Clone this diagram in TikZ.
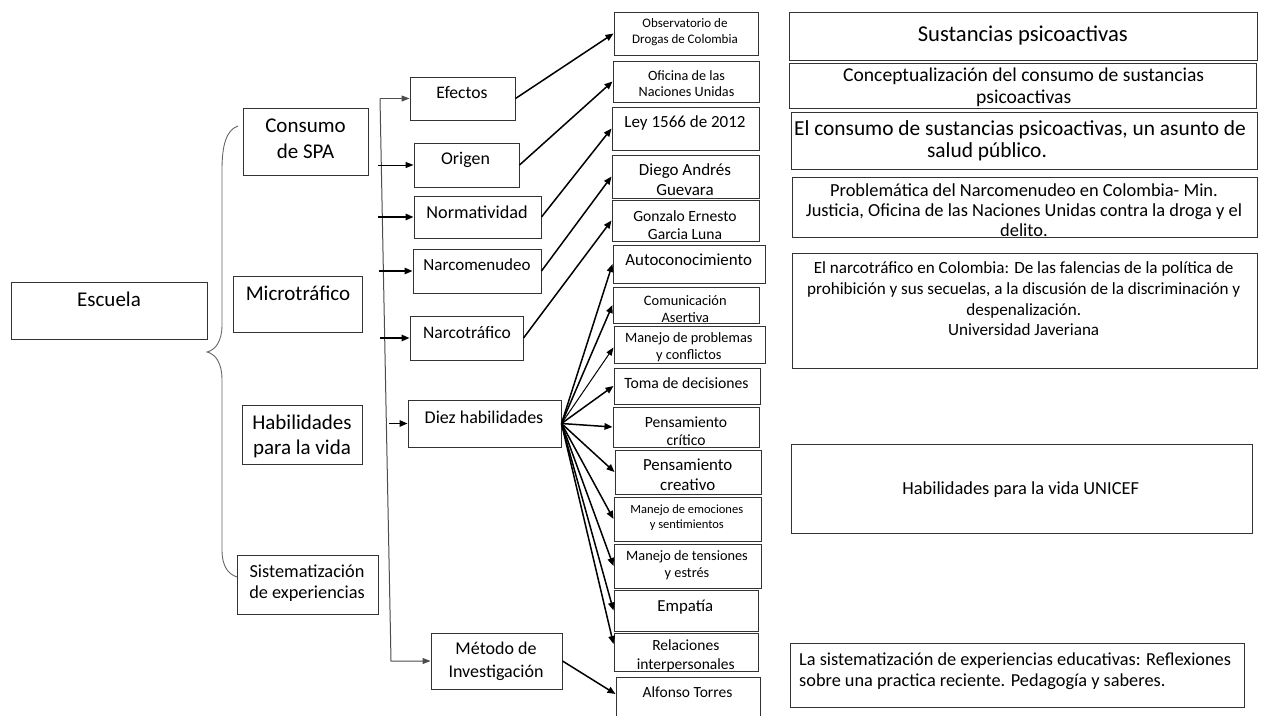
\documentclass[tikz,border=0pt]{standalone}
\usepackage{fontspec}
\setmainfont{Carlito}
\usetikzlibrary{arrows.meta,fit}
\newcommand\fs[2]{\fontsize{#1pt}{#2pt}\selectfont}
\newcommand\bx[5]{\node[box, fit={(#2,#3)(#4,#5)}] (#1) {};}
\begin{document}
\begin{tikzpicture}[x=1pt,y=-1pt,
  box/.style={draw=black!80, line width=1pt, inner sep=0pt},
  txt/.style={inner sep=0pt, align=center, text=black},
  arr/.style={line width=1.5pt, -{Triangle[length=8pt,width=6.5pt]}},
  thinarr/.style={line width=1pt, -{Triangle[length=8pt,width=6pt]}},
  brace/.style={draw=black!60, line width=0.9pt}]
\useasboundingbox (0,0) rectangle (1272,715);
\clip (0,0) rectangle (1272,715);
% ---- boxes
\bx{escuela}{11}{282}{207}{339}
\bx{consumo}{243}{108}{368}{175}
\bx{micro}{233}{276}{362}{332}
\bx{habil}{242}{405}{362}{464}
\bx{sist}{237}{555}{378}{614}
\bx{efectos}{410}{77}{515}{120}
\bx{origen}{414}{143}{519}{187}
\bx{norma}{414}{196}{541}{238}
\bx{narcom}{413}{249}{541}{293}
\bx{narcot}{410}{316}{523}{360}
\bx{diez}{408}{400}{561}{447}
\bx{metodo}{431}{633}{562}{689}
\bx{obs}{614}{12}{758}{55}
\bx{ofi}{613}{61}{759}{102}
\bx{ley}{612}{107}{759}{150}
\bx{diego}{612}{155}{759}{198}
\bx{gonz}{612}{200}{759}{241}
\bx{auto}{613}{245}{765}{283}
\bx{comu}{613}{287}{759}{323}
\bx{mprob}{614}{326}{765}{363}
\bx{toma}{614}{368}{760}{404}
\bx{pcrit}{613}{407}{759}{447}
\bx{pcrea}{615}{450}{761}{494}
\bx{memo}{614}{497}{761}{541}
\bx{mtens}{614}{544}{761}{588}
\bx{empa}{614}{590}{758}{631}
\bx{rela}{614}{633}{758}{671}
\bx{alf}{616}{677}{760}{730}
\bx{sust}{789}{12}{1257}{60}
\bx{concep}{789}{63}{1256}{108}
\bx{elcons}{791}{112}{1257}{169}
\bx{probl}{792}{177}{1257}{237}
\bx{elnarc}{792}{253}{1257}{368}
\bx{unicef}{791}{444}{1252}{533}
\bx{lasist}{790}{643}{1244}{707}
% ---- texts
\node[txt, font=\fs{21}{25.6}] (escuela-t) at (109,299) {Escuela};
\node[txt, font=\fs{21}{26}] (consumo-t) at (305.5,139) {Consumo\\de SPA};
\node[txt, font=\fs{21}{25.6}] (micro-t) at (298,293) {Microtráfico};
\node[txt, font=\fs{21}{25}] (habil-t) at (302,436) {Habilidades\\para la vida};
\node[txt, font=\fs{18.3}{21.5}] (sist-t) at (307,583) {Sistematización\\de experiencias};
\node[txt, font=\fs{17.6}{21}] (efectos-t) at (462,93) {Efectos};
\node[txt, font=\fs{17.9}{21}] (origen-t) at (465.5,160) {Origen};
\node[txt, font=\fs{18.2}{21}] (norma-t) at (477,212) {Normatividad};
\node[txt, font=\fs{17}{21}] (narcom-t) at (477,265) {Narcomenudeo};
\node[txt, font=\fs{17.5}{21}] (narcot-t) at (467,333) {Narcotráfico};
\node[txt, font=\fs{18}{21}] (diez-t) at (484,417) {Diez habilidades};
\node[txt, font=\fs{18}{23}] (metodo-t) at (496,661) {Método de\\Investigación};
\node[txt, font=\fs{13}{16}] (obs-t) at (685,32) {Observatorio de\\Drogas de Colombia};
\node[txt, font=\fs{14.2}{16}] (ofi-t) at (686.5,84) {Oficina de las\\Naciones Unidas};
\node[txt, font=\fs{17}{20}] (ley-t) at (685,123) {Ley 1566 de 2012};
\node[txt, font=\fs{17}{20}] (diego-t) at (685,180) {Diego Andrés\\Guevara};
\node[txt, font=\fs{15.6}{18.3}] (gonz-t) at (685,225) {Gonzalo Ernesto\\Garcia Luna};
\node[txt, font=\fs{16.9}{20}] (auto-t) at (688.7,260) {Autoconocimiento};
\node[txt, font=\fs{14.4}{16.5}] (comu-t) at (685.3,309) {Comunicación\\Asertiva};
\node[txt, font=\fs{14.3}{17}] (mprob-t) at (688.8,347.5) {Manejo de problemas\\y conflictos};
\node[txt, font=\fs{15.7}{19}] (toma-t) at (686.5,383) {Toma de decisiones};
\node[txt, font=\fs{15.6}{18}] (pcrit-t) at (686,431) {Pensamiento\\crítico};
\node[txt, font=\fs{16.9}{20}] (pcrea-t) at (687.7,475) {Pensamiento\\creativo};
\node[txt, font=\fs{12.5}{15}] (memo-t) at (686.8,517.5) {Manejo de emociones\\y sentimientos};
\node[txt, font=\fs{14.3}{17}] (mtens-t) at (687,565.5) {Manejo de tensiones\\y estrés};
\node[txt, font=\fs{16.8}{20}] (empa-t) at (685.3,606.7) {Empatía};
\node[txt, font=\fs{15.5}{19}] (rela-t) at (685.8,656) {Relaciones\\interpersonales};
\node[txt, font=\fs{15.5}{19}] (alf-t) at (687.5,691.7) {Alfonso Torres};
\node[txt, font=\fs{22.6}{26}] (sust-t) at (1022.8,36) {Sustancias psicoactivas};
\node[txt, font=\fs{19.6}{21.6}] (concep-t) at (1023.7,87.5) {Conceptualización del consumo de sustancias\\psicoactivas};
\node[txt, font=\fs{21.4}{22.3}] (elcons-t) at (1020,141) {El consumo de sustancias psicoactivas, un asunto de\\salud público.\hspace*{66pt}\null};
\node[txt, font=\fs{18.4}{20}] (probl-t) at (1024,210) {Problemática del Narcomenudeo en Colombia- Min.\\Justicia, Oficina de las Naciones Unidas contra la droga y el\\delito.};
\node[txt, font=\fs{17.1}{20.6}] (elnarc-t) at (1023.7,299) {El narcotráfico en Colombia: De las falencias de la política de\\prohibición y sus secuelas, a la discusión de la discriminación y\\despenalización.\\Universidad Javeriana};
\node[txt, font=\fs{18.4}{21}] (unicef-t) at (1020.7,489.3) {Habilidades para la vida UNICEF};
\node[txt, font=\fs{18.3}{21}, align=left, anchor=west] (lasist-t) at (799,671.5) {La sistematización de experiencias educativas: Reflexiones\\sobre una practica reciente. Pedagogía y saberes.};
% ---- brace
\coordinate (brtop) at (238,126);
\coordinate (brtip) at (207,352);
\coordinate (brbot) at (237,577);
\draw[brace] (brtop) .. controls (226,130) and (222,146) .. (222,170) -- (222,325)
  .. controls (222,342) and (215,350) .. (brtip)
  .. controls (215,354) and (222,362) .. (222,380) -- (222,550)
  .. controls (222,566) and (228,574) .. (brbot);
% ---- vertical connector
\coordinate (vtop) at (380,98.5);
\coordinate (vbot) at (391,661);
\draw[thinarr, draw=black!70] (vtop) -- (efectos.west);
\draw[thinarr, draw=black!70] (vtop) -- (vbot) -- (metodo.west);
\coordinate (h1) at (378,165);
\coordinate (h2) at (378,217);
\coordinate (h3) at (379,271);
\coordinate (h4) at (380,338);
\coordinate (h5) at (389,423.5);
\draw[thinarr] (h1) -- (origen.west);
\draw[arr] (h2) -- (norma.west);
\draw[arr] (h3) -- (narcom.west);
\draw[arr] (h4) -- (narcot.west);
\draw[arr] (h5) -- (diez.west);
% ---- to sources
\draw[arr] (efectos.east) -- (obs.west);
\draw[arr] (origen.east) -- (ofi.west);
\draw[arr] (norma.east) -- (ley.west);
\draw[arr] (narcom.east) -- (diego.west);
\draw[arr] (narcot.east) -- (gonz.west);
\foreach \t in {auto,comu,toma,pcrit,pcrea,memo,mtens,empa}
  \draw[arr] (diez.east) -- (\t.west);
\draw[thinarr] (diez.east) -- ([yshift=-3pt]mprob.west);
\draw[arr] (diez.east) -- ([yshift=8pt]rela.west);
\draw[arr] (metodo.east) -- ([yshift=9.5pt]alf.west);
\end{tikzpicture}
\end{document}
